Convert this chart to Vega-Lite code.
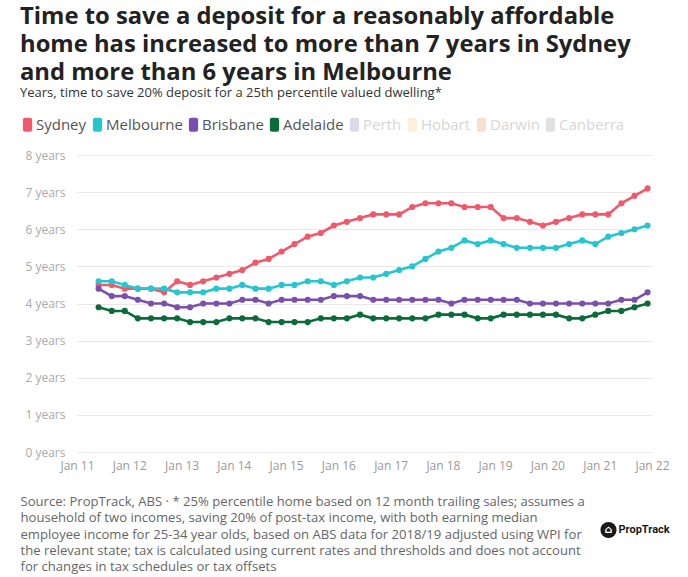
{
  "$schema": "https://vega.github.io/schema/vega-lite/v6.json",
  "width": 575,
  "height": 297,
  "padding": {"left": 20, "top": 5, "right": 10, "bottom": 5},
  "background": "white",
  "config": {"view": {"stroke": null}, "font": "Open Sans"},
  "title": {
    "text": ["Time to save a deposit for a reasonably affordable", "home has increased to more than 7 years in Sydney", "and more than 6 years in Melbourne"],
    "subtitle": "Years, time to save 20% deposit for a 25th percentile valued dwelling*",
    "anchor": "start",
    "frame": "bounds",
    "font": "Open Sans",
    "fontSize": 23.8,
    "fontWeight": "bold",
    "color": "#222222",
    "lineHeight": 28,
    "subtitleFont": "Open Sans",
    "subtitleFontSize": 13,
    "subtitleColor": "#333333",
    "subtitlePadding": 2,
    "offset": 17
  },
  "data": {
    "values": [
      {"date": "2011-06-01", "Sydney": 4.5, "Melbourne": 4.6, "Brisbane": 4.4, "Adelaide": 3.9},
      {"date": "2011-09-01", "Sydney": 4.5, "Melbourne": 4.6, "Brisbane": 4.2, "Adelaide": 3.8},
      {"date": "2011-12-01", "Sydney": 4.4, "Melbourne": 4.5, "Brisbane": 4.2, "Adelaide": 3.8},
      {"date": "2012-03-01", "Sydney": 4.4, "Melbourne": 4.4, "Brisbane": 4.1, "Adelaide": 3.6},
      {"date": "2012-06-01", "Sydney": 4.4, "Melbourne": 4.4, "Brisbane": 4.0, "Adelaide": 3.6},
      {"date": "2012-09-01", "Sydney": 4.3, "Melbourne": 4.4, "Brisbane": 4.0, "Adelaide": 3.6},
      {"date": "2012-12-01", "Sydney": 4.6, "Melbourne": 4.3, "Brisbane": 3.9, "Adelaide": 3.6},
      {"date": "2013-03-01", "Sydney": 4.5, "Melbourne": 4.3, "Brisbane": 3.9, "Adelaide": 3.5},
      {"date": "2013-06-01", "Sydney": 4.6, "Melbourne": 4.3, "Brisbane": 4.0, "Adelaide": 3.5},
      {"date": "2013-09-01", "Sydney": 4.7, "Melbourne": 4.4, "Brisbane": 4.0, "Adelaide": 3.5},
      {"date": "2013-12-01", "Sydney": 4.8, "Melbourne": 4.4, "Brisbane": 4.0, "Adelaide": 3.6},
      {"date": "2014-03-01", "Sydney": 4.9, "Melbourne": 4.5, "Brisbane": 4.1, "Adelaide": 3.6},
      {"date": "2014-06-01", "Sydney": 5.1, "Melbourne": 4.4, "Brisbane": 4.1, "Adelaide": 3.6},
      {"date": "2014-09-01", "Sydney": 5.2, "Melbourne": 4.4, "Brisbane": 4.0, "Adelaide": 3.5},
      {"date": "2014-12-01", "Sydney": 5.4, "Melbourne": 4.5, "Brisbane": 4.1, "Adelaide": 3.5},
      {"date": "2015-03-01", "Sydney": 5.6, "Melbourne": 4.5, "Brisbane": 4.1, "Adelaide": 3.5},
      {"date": "2015-06-01", "Sydney": 5.8, "Melbourne": 4.6, "Brisbane": 4.1, "Adelaide": 3.5},
      {"date": "2015-09-01", "Sydney": 5.9, "Melbourne": 4.6, "Brisbane": 4.1, "Adelaide": 3.6},
      {"date": "2015-12-01", "Sydney": 6.1, "Melbourne": 4.5, "Brisbane": 4.2, "Adelaide": 3.6},
      {"date": "2016-03-01", "Sydney": 6.2, "Melbourne": 4.6, "Brisbane": 4.2, "Adelaide": 3.6},
      {"date": "2016-06-01", "Sydney": 6.3, "Melbourne": 4.7, "Brisbane": 4.2, "Adelaide": 3.7},
      {"date": "2016-09-01", "Sydney": 6.4, "Melbourne": 4.7, "Brisbane": 4.1, "Adelaide": 3.6},
      {"date": "2016-12-01", "Sydney": 6.4, "Melbourne": 4.8, "Brisbane": 4.1, "Adelaide": 3.6},
      {"date": "2017-03-01", "Sydney": 6.4, "Melbourne": 4.9, "Brisbane": 4.1, "Adelaide": 3.6},
      {"date": "2017-06-01", "Sydney": 6.6, "Melbourne": 5.0, "Brisbane": 4.1, "Adelaide": 3.6},
      {"date": "2017-09-01", "Sydney": 6.7, "Melbourne": 5.2, "Brisbane": 4.1, "Adelaide": 3.6},
      {"date": "2017-12-01", "Sydney": 6.7, "Melbourne": 5.4, "Brisbane": 4.1, "Adelaide": 3.7},
      {"date": "2018-03-01", "Sydney": 6.7, "Melbourne": 5.5, "Brisbane": 4.0, "Adelaide": 3.7},
      {"date": "2018-06-01", "Sydney": 6.6, "Melbourne": 5.7, "Brisbane": 4.1, "Adelaide": 3.7},
      {"date": "2018-09-01", "Sydney": 6.6, "Melbourne": 5.6, "Brisbane": 4.1, "Adelaide": 3.6},
      {"date": "2018-12-01", "Sydney": 6.6, "Melbourne": 5.7, "Brisbane": 4.1, "Adelaide": 3.6},
      {"date": "2019-03-01", "Sydney": 6.3, "Melbourne": 5.6, "Brisbane": 4.1, "Adelaide": 3.7},
      {"date": "2019-06-01", "Sydney": 6.3, "Melbourne": 5.5, "Brisbane": 4.1, "Adelaide": 3.7},
      {"date": "2019-09-01", "Sydney": 6.2, "Melbourne": 5.5, "Brisbane": 4.0, "Adelaide": 3.7},
      {"date": "2019-12-01", "Sydney": 6.1, "Melbourne": 5.5, "Brisbane": 4.0, "Adelaide": 3.7},
      {"date": "2020-03-01", "Sydney": 6.2, "Melbourne": 5.5, "Brisbane": 4.0, "Adelaide": 3.7},
      {"date": "2020-06-01", "Sydney": 6.3, "Melbourne": 5.6, "Brisbane": 4.0, "Adelaide": 3.6},
      {"date": "2020-09-01", "Sydney": 6.4, "Melbourne": 5.7, "Brisbane": 4.0, "Adelaide": 3.6},
      {"date": "2020-12-01", "Sydney": 6.4, "Melbourne": 5.6, "Brisbane": 4.0, "Adelaide": 3.7},
      {"date": "2021-03-01", "Sydney": 6.4, "Melbourne": 5.8, "Brisbane": 4.0, "Adelaide": 3.8},
      {"date": "2021-06-01", "Sydney": 6.7, "Melbourne": 5.9, "Brisbane": 4.1, "Adelaide": 3.8},
      {"date": "2021-09-01", "Sydney": 6.9, "Melbourne": 6.0, "Brisbane": 4.1, "Adelaide": 3.9},
      {"date": "2021-12-01", "Sydney": 7.1, "Melbourne": 6.1, "Brisbane": 4.3, "Adelaide": 4.0}
    ]
  },
  "layer": [
    {
      "transform": [{"fold": ["Sydney", "Melbourne", "Brisbane", "Adelaide"], "as": ["city", "years"]}],
      "encoding": {
        "x": {
          "field": "date",
          "type": "temporal",
          "scale": {"domain": [{"year": 2011, "month": 1, "date": 1}, {"year": 2022, "month": 1, "date": 1}]},
          "axis": {
            "format": "%b %y",
            "tickCount": {"interval": "year", "step": 1},
            "labelColor": "#9a9a9a",
            "labelFontSize": 12,
            "labelPadding": 8,
            "labelFlush": false,
            "labelOverlap": false,
            "ticks": false,
            "domain": false,
            "grid": false,
            "title": [
              "Source: PropTrack, ABS · * 25% percentile home based on 12 month trailing sales; assumes a",
              "household of two incomes, saving 20% of post-tax income, with both earning median",
              "employee income for 25-34 year olds, based on ABS data for 2018/19 adjusted using WPI for",
              "the relevant state; tax is calculated using current rates and thresholds and does not account",
              "for changes in tax schedules or tax offsets"
            ],
            "titleAnchor": "start",
            "titleAlign": "left",
            "titleBaseline": "top",
            "titleX": -57,
            "titleY": 43.5,
            "titleFont": "Open Sans",
            "titleFontSize": 13.1,
            "titleFontWeight": "normal",
            "titleColor": "#666666",
            "titleLineHeight": 16.3
          }
        },
        "y": {
          "field": "years",
          "type": "quantitative",
          "scale": {"domain": [0, 8]},
          "axis": {
            "values": [0, 1, 2, 3, 4, 5, 6, 7, 8],
            "tickCount": 9,
            "labelExpr": "datum.value + ' years'",
            "labelColor": "#aaaaaa",
            "labelFontSize": 12,
            "labelPadding": 12,
            "labelOverlap": false,
            "ticks": false,
            "domain": false,
            "gridColor": "#e8e8e8",
            "title": null
          }
        },
        "color": {
          "field": "city",
          "type": "nominal",
          "scale": {
            "domain": ["Sydney", "Melbourne", "Brisbane", "Adelaide", "Perth", "Hobart", "Darwin", "Canberra"],
            "range": ["#ee5a6b", "#27c6cf", "#7b4fae", "#0c6b3b", "#dbdae6", "#fcf0d6", "#f8dfd0", "#e0e0e0"]
          },
          "legend": {
            "orient": "none",
            "legendX": -57,
            "legendY": -38,
            "direction": "horizontal",
            "title": null,
            "columns": 8,
            "symbolType": "M-0.36,-1 L0.36,-1 Q0.66,-1 0.66,-0.7 L0.66,0.7 Q0.66,1 0.36,1 L-0.36,1 Q-0.66,1 -0.66,0.7 L-0.66,-0.7 Q-0.66,-1 -0.36,-1 Z",
            "symbolSize": 196,
            "symbolStrokeWidth": 0,
            "symbolOpacity": 1,
            "labelFont": "Open Sans",
            "labelFontSize": 15,
            "labelColor": "#555555",
            "labelOffset": 1,
            "columnPadding": 3,
            "encode": {
              "symbols": {"update": {
                "fill": {"signal": "scale('color', datum.value)"},
                "strokeWidth": {"value": 0}
              }},
              "labels": {"update": {"fill": {"signal": "indexof(['Perth','Hobart','Darwin','Canberra'], datum.label) >= 0 ? '#d6d6d6' : '#555555'"}}}
            }
          }
        }
      },
      "layer": [
        {"mark": {"type": "line", "strokeWidth": 2.6}},
        {
          "mark": {"type": "point", "filled": true, "size": 38, "opacity": 1},
          "encoding": {"color": {"field": "city", "type": "nominal", "legend": null}}
        }
      ]
    },
    {
      "data": {"values": [{"logo": "PropTrack"}]},
      "mark": {"type": "point", "filled": true, "size": 260, "color": "#1a1a1a", "opacity": 1},
      "encoding": {
        "x": {"datum": {"year": 2021, "month": 3, "date": 3}, "type": "temporal"},
        "y": {"datum": -2.1, "type": "quantitative", "axis": {"values": [0, 1, 2, 3, 4, 5, 6, 7, 8]}}
      }
    },
    {
      "data": {"values": [{"icon": "⌂"}]},
      "mark": {"type": "text", "fontWeight": "bold", "fontSize": 11, "align": "center", "baseline": "middle", "color": "#ffffff", "font": "DejaVu Sans"},
      "encoding": {
        "text": {"field": "icon"},
        "x": {"datum": {"year": 2021, "month": 3, "date": 3}, "type": "temporal"},
        "y": {"datum": -2.1, "type": "quantitative", "axis": {"values": [0, 1, 2, 3, 4, 5, 6, 7, 8]}}
      }
    },
    {
      "data": {"values": [{"logo": "PropTrack"}]},
      "mark": {"type": "text", "fontWeight": "bold", "fontSize": 11, "align": "left", "baseline": "middle", "color": "#1a1a1a", "font": "Roboto"},
      "encoding": {
        "text": {"field": "logo"},
        "x": {"datum": {"year": 2021, "month": 5, "date": 12}, "type": "temporal"},
        "y": {"datum": -2.1, "type": "quantitative", "axis": {"values": [0, 1, 2, 3, 4, 5, 6, 7, 8]}}
      }
    }
  ]
}
